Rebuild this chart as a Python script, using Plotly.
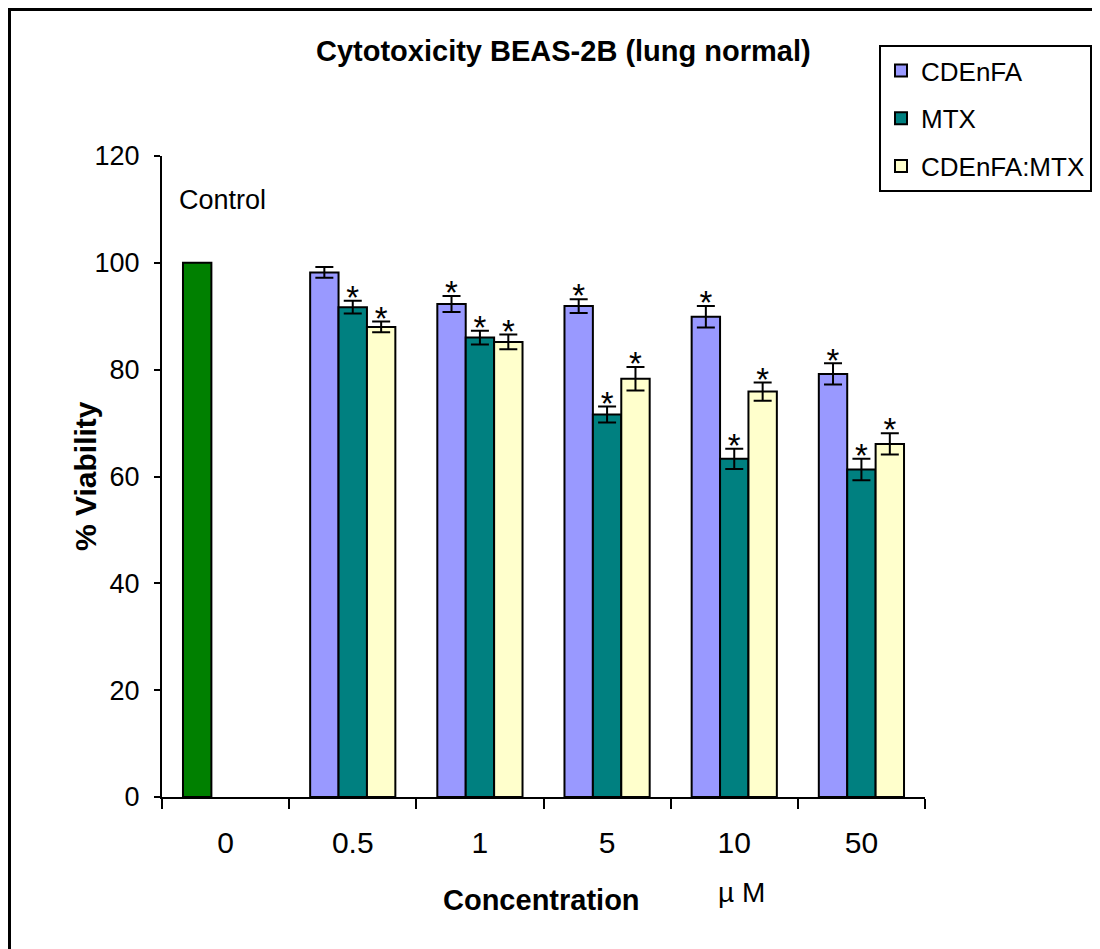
import plotly.graph_objects as go

# ---- data ----
categories = ["0", "0.5", "1", "5", "10", "50"]
conc = ["0.5", "1", "5", "10", "50"]
control_x = ["0"]
control_value = [100]

cdenfa = [98.2, 92.3, 91.9, 89.9, 79.2]
cdenfa_err = [1.0, 1.5, 1.3, 2.0, 2.0]
mtx = [91.7, 86.0, 71.6, 63.3, 61.3]
mtx_err = [1.2, 1.3, 1.5, 1.9, 2.0]
combo = [88.0, 85.2, 78.3, 75.9, 66.1]
combo_err = [1.0, 1.4, 2.2, 1.7, 2.0]

cdenfa_sig = ["", "*", "*", "*", "*"]
mtx_sig = ["*", "*", "*", "*", "*"]
combo_sig = ["*", "*", "*", "*", "*"]

series = [
    ("CDEnFA", cdenfa, cdenfa_err, cdenfa_sig, "#9999FF", "a"),
    ("MTX", mtx, mtx_err, mtx_sig, "#008080", "b"),
    ("CDEnFA:MTX", combo, combo_err, combo_sig, "#FFFFCC", "c"),
]

FONT = "Liberation Sans, Arial, sans-serif"

fig = go.Figure()

# control bar (same slot as the first series)
fig.add_trace(go.Bar(
    x=control_x, y=control_value, offsetgroup="a", showlegend=False,
    marker=dict(color="#008000", line=dict(color="black", width=2)),
    hoverinfo="skip",
))

for name, vals, errs, sig, color, grp in series:
    fig.add_trace(go.Bar(
        x=conc, y=vals, name=name, offsetgroup=grp, legendgroup=name,
        marker=dict(color=color, line=dict(color="black", width=2)),
        error_y=dict(type="data", array=errs, color="black",
                     thickness=2, width=9),
    ))

for name, vals, errs, sig, color, grp in series:
    fig.add_trace(go.Scatter(
        x=conc, y=[v + e for v, e in zip(vals, errs)],
        mode="text", text=sig, textposition="middle center",
        offsetgroup=grp, showlegend=False, cliponaxis=False,
        textfont=dict(family=FONT, size=33, color="black"),
        hoverinfo="skip",
    ))

# page offset (body margin) and paper-coordinate helpers, in screen pixels
OFF = 8
W, H = 1100, 949
L, R, T, B = 162 - OFF, 925 - OFF, 156 - OFF, 797 - OFF
def px(x):
    return ((x - OFF) - L) / (R - L)
def py(y):
    return (B - (y - OFF)) / (B - T)

fig.update_layout(
    width=W, height=H,
    margin=dict(l=L, r=W - R, t=T, b=H - B),
    paper_bgcolor="white", plot_bgcolor="white",
    barmode="group", bargap=0.33, bargroupgap=0,
    scattermode="group", scattergap=0.33,
    font=dict(family=FONT, color="black", size=26),
    showlegend=True,
    legend=dict(
        x=px(879), y=py(45), xanchor="left", yanchor="top",
        bordercolor="black", borderwidth=2, bgcolor="white",
        font=dict(family=FONT, size=26, color="black"),
        traceorder="grouped", tracegroupgap=11,
    ),
    xaxis=dict(
        type="category", categoryorder="array", categoryarray=categories,
        tickson="boundaries", ticks="outside", ticklen=10, tickwidth=2,
        tickcolor="black", showline=True, linecolor="black", linewidth=2,
        showgrid=False, tickfont=dict(family=FONT, size=30),
        ticklabelstandoff=18,
    ),
    yaxis=dict(
        range=[0, 120], dtick=20, ticks="outside", ticklen=6, tickwidth=2,
        tickcolor="black", showline=True, linecolor="black", linewidth=2,
        showgrid=False, zeroline=False, tickfont=dict(family=FONT, size=27),
        ticklabelstandoff=9,
    ),
    annotations=[
        dict(text="<b>Cytotoxicity BEAS-2B (lung normal)</b>", xref="paper", yref="paper",
             x=px(563), y=py(51), xanchor="center", yanchor="middle", showarrow=False,
             font=dict(family=FONT, size=29)),
        dict(text="<b>% Viability</b>", xref="paper", yref="paper",
             x=px(85), y=py(476), xanchor="center", yanchor="middle", showarrow=False,
             textangle=-90, font=dict(family=FONT, size=30)),
        dict(text="<b>Concentration</b>", xref="paper", yref="paper",
             x=px(541), y=py(900), xanchor="center", yanchor="middle", showarrow=False,
             font=dict(family=FONT, size=29)),
        dict(text="µ M", xref="paper", yref="paper",
             x=px(741), y=py(892), xanchor="center", yanchor="middle", showarrow=False,
             font=dict(family=FONT, size=28)),
        dict(text="Control", xref="paper", yref="paper",
             x=px(222), y=py(200), xanchor="center", yanchor="middle", showarrow=False,
             font=dict(family=FONT, size=27)),
    ],
    shapes=[
        dict(type="rect", xref="paper", yref="paper",
             x0=px(9.5), y0=py(970), x1=px(1120), y1=py(9.5),
             line=dict(color="black", width=3), fillcolor="rgba(0,0,0,0)",
             layer="below"),
    ],
)

fig.write_html("out.html")
